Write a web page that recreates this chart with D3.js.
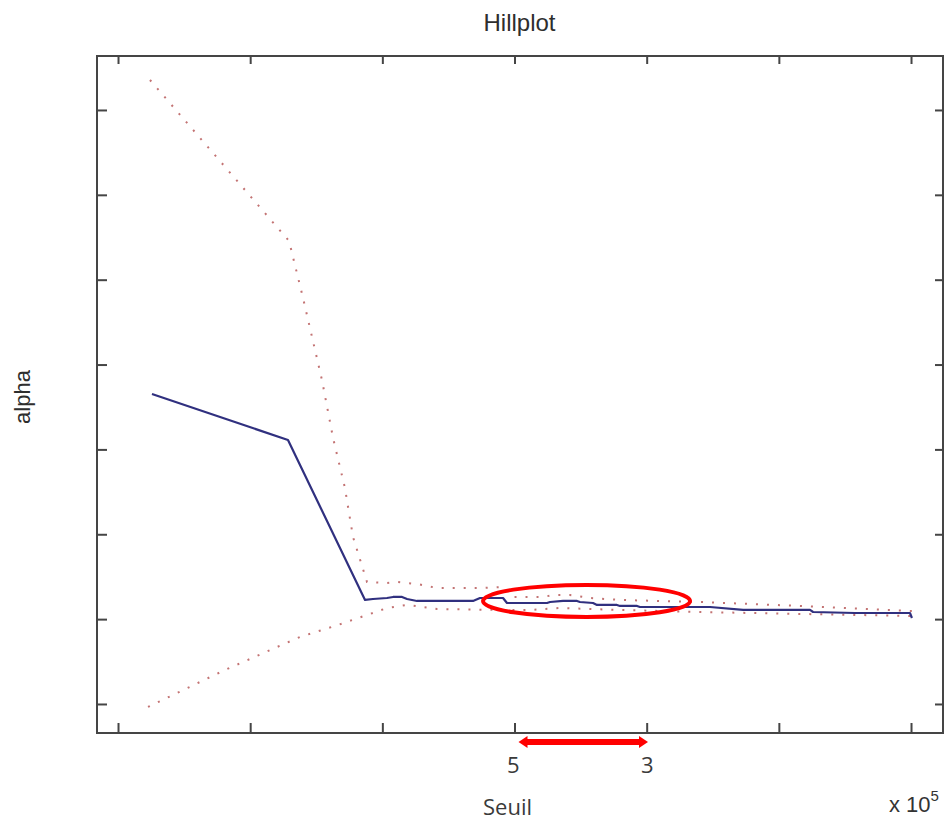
<!DOCTYPE html>
<html>
<head>
<meta charset="utf-8">
<script src="https://cdn.jsdelivr.net/npm/d3@7"></script>
<style>
  html, body { margin: 0; padding: 0; background: #fff; }
  svg { display: block; }
</style>
</head>
<body>
<script>
// ---- data (x in units of 10^5, y = alpha) ----
const xTicks = [0, 1, 2, 3, 4, 5, 6];
const yTicks = [0, 1, 2, 3, 4, 5, 6, 7];

const alphaX = [0.257, 1.286, 1.869, 1.929, 2.035, 2.081, 2.149, 2.187, 2.262, 2.686, 2.739, 2.913, 2.943, 3.246, 3.269, 3.367, 3.473, 3.495, 3.594, 3.624, 3.775, 3.798, 3.927, 3.949, 4.479, 4.729, 5.236, 5.259, 5.576, 5.992, 6.007];
const alphaY = [3.653, 3.111, 1.226, 1.237, 1.249, 1.261, 1.261, 1.237, 1.214, 1.214, 1.249, 1.249, 1.190, 1.190, 1.202, 1.214, 1.214, 1.202, 1.190, 1.167, 1.167, 1.155, 1.155, 1.143, 1.143, 1.108, 1.108, 1.084, 1.072, 1.072, 1.013];

const upperX = [0.242, 1.294, 1.400, 1.543, 1.627, 1.717, 1.778, 1.884, 2.035, 2.111, 2.262, 2.414, 2.762, 2.913, 2.989, 3.216, 3.291, 3.420, 3.571, 3.798, 4.403, 5.160, 6.007];
const upperY = [7.353, 5.456, 4.784, 3.818, 3.135, 2.545, 1.968, 1.438, 1.426, 1.438, 1.414, 1.367, 1.367, 1.379, 1.261, 1.261, 1.284, 1.284, 1.249, 1.226, 1.202, 1.155, 1.096];

const lowerX = [0.227, 0.810, 1.377, 1.665, 1.884, 2.035, 2.187, 2.414, 2.890, 3.117, 3.344, 3.798, 4.403, 5.160, 6.007];
const lowerY = [-0.035, 0.401, 0.790, 0.931, 1.049, 1.131, 1.167, 1.119, 1.108, 1.108, 1.131, 1.108, 1.084, 1.061, 1.037];

// annotations
const ellipseCenter = [3.545, 1.214];
const arrowRange = [3.03, 4.01];
const annotLabels = [{x: 2.99, t: "5"}, {x: 4.005, t: "3"}];

// ---- layout ----
const W = 947, H = 821;
const L = 97, R = 943, T = 56, B = 733;

const svg = d3.select("body").append("svg").attr("width", W).attr("height", H);

const x = d3.scaleLinear().domain([-0.159, 6.242]).range([L, R]);
const y = d3.scaleLinear().domain([-0.342, 7.636]).range([B, T]);

const axisColor = "#454545";

// border
svg.append("rect").attr("x", L).attr("y", T).attr("width", R - L).attr("height", B - T)
  .attr("fill", "none").attr("stroke", axisColor).attr("stroke-width", 2);

function styleAxis(g) {
  g.select(".domain").remove();
  g.selectAll(".tick line").attr("stroke", axisColor).attr("stroke-width", 2);
  g.selectAll(".tick text").remove();
}
svg.append("g").attr("transform", `translate(0,${B})`)
  .call(d3.axisBottom(x).tickValues(xTicks).tickSize(-10).tickFormat("")).call(styleAxis);
svg.append("g").attr("transform", `translate(0,${T})`)
  .call(d3.axisTop(x).tickValues(xTicks).tickSize(-8).tickFormat("")).call(styleAxis);
svg.append("g").attr("transform", `translate(${L},0)`)
  .call(d3.axisLeft(y).tickValues(yTicks).tickSize(-10).tickFormat("")).call(styleAxis);
svg.append("g").attr("transform", `translate(${R},0)`)
  .call(d3.axisRight(y).tickValues(yTicks).tickSize(-8).tickFormat("")).call(styleAxis);

const line = d3.line().x(d => x(d[0])).y(d => y(d[1]));
const zip = (a, b) => a.map((v, i) => [v, b[i]]);

// confidence bounds (dotted)
[zip(upperX, upperY), zip(lowerX, lowerY)].forEach(pts => {
  svg.append("path").attr("d", line(pts)).attr("fill", "none")
    .attr("stroke", "#b85a5a").attr("stroke-width", 2)
    .attr("stroke-dasharray", "2,9").attr("opacity", 0.85);
});

// alpha estimate
svg.append("path").attr("d", line(zip(alphaX, alphaY))).attr("fill", "none")
  .attr("stroke", "#30307f").attr("stroke-width", 2.2).attr("stroke-linejoin", "round");

// red ellipse
svg.append("ellipse").attr("cx", x(ellipseCenter[0])).attr("cy", y(ellipseCenter[1]))
  .attr("rx", 103.5).attr("ry", 16).attr("fill", "none")
  .attr("stroke", "#ff0000").attr("stroke-width", 4);

// red double arrow
const ay = 742;
const ax0 = x(arrowRange[0]), ax1 = x(arrowRange[1]);
svg.append("line").attr("x1", ax0 + 6).attr("x2", ax1 - 6).attr("y1", ay).attr("y2", ay)
  .attr("stroke", "#ff0000").attr("stroke-width", 6);
svg.append("path").attr("d", `M${ax0},${ay} L${ax0 + 9},${ay - 6} L${ax0 + 9},${ay + 6} Z`).attr("fill", "#ff0000");
svg.append("path").attr("d", `M${ax1},${ay} L${ax1 - 9},${ay - 6} L${ax1 - 9},${ay + 6} Z`).attr("fill", "#ff0000");

// annotation numbers
annotLabels.forEach(d => {
  svg.append("text").attr("x", x(d.x)).attr("y", 773).attr("text-anchor", "middle")
    .attr("font-family", "Open Sans, sans-serif").attr("font-size", 22).attr("fill", "#3a3a3a").text(d.t);
});

// titles
svg.append("text").attr("x", 519.5).attr("y", 31).attr("text-anchor", "middle")
  .attr("font-family", "Liberation Sans, Arial, sans-serif").attr("font-size", 24)
  .attr("fill", "#2e2e2e").text("Hillplot");

svg.append("text").attr("transform", "translate(30,397) rotate(-90)").attr("text-anchor", "middle")
  .attr("font-family", "Liberation Sans, Arial, sans-serif").attr("font-size", 22)
  .attr("fill", "#2e2e2e").text("alpha");

svg.append("text").attr("x", 483).attr("y", 815)
  .attr("font-family", "Open Sans, sans-serif").attr("font-size", 22)
  .attr("fill", "#3a3a3a").text("Seuil");

const ex = svg.append("text").attr("x", 889).attr("y", 812)
  .attr("font-family", "Liberation Sans, Arial, sans-serif").attr("font-size", 22).attr("fill", "#333");
ex.append("tspan").text("x 10");
ex.append("tspan").attr("dy", -11).attr("font-size", 15).text("5");
</script>
</body>
</html>
